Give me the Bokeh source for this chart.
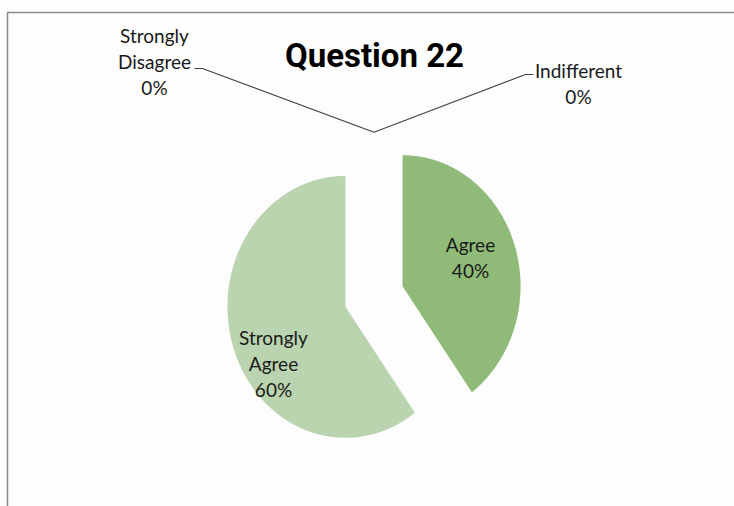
import numpy as np
from bokeh.plotting import figure
from bokeh.models import Range1d
from bokeh.core.properties import value
from bokeh.embed import file_html
from bokeh.resources import INLINE

# ---- data ----
categories = ["Indifferent", "Agree", "Strongly Agree", "Strongly Disagree"]
percent = [0, 40, 60, 0]
label_lines = ["Indifferent", "Agree", "Strongly\nAgree", "Strongly\nDisagree"]
slice_colors = ["#7aa65f", "#8fba78", "#bbd4b0", "#6f9a58"]
title_text = "Question 22"

# ---- geometry (pixels, y down) ----
W, H = 734, 506
cx, cy = 373.5, 296.0
rx, ry = 118.0, 131.0
explode = 30.0
FONT = "Lato"

p = figure(width=W, height=H, output_backend="svg", toolbar_location=None,
           x_range=Range1d(0, W), y_range=Range1d(H, 0), min_border=0)
p.axis.visible = False
p.grid.visible = False
p.outline_line_color = None
p.background_fill_color = "#fdfdfd"
p.border_fill_color = "#fdfdfd"

# chart frame (top and left edges)
p.line([7, 7, W], [H, 12, 12], line_color="#8a8a8a", line_width=1.5)

total = float(sum(percent))
cum = 0.0
apexes = []
for cat, v, col in zip(categories, percent, slice_colors):
    f = v / total
    a0 = 90.0 - 360.0 * cum
    a1 = 90.0 - 360.0 * (cum + f)
    mid = np.radians((a0 + a1) / 2.0)
    ax = cx + explode * np.cos(mid)
    ay = cy - explode * (ry / rx) * np.sin(mid)
    apexes.append((ax, ay, mid))
    if v > 0:
        t = np.radians(np.linspace(a0, a1, 200))
        xs = np.concatenate([[ax], ax + rx * np.cos(t), [ax]])
        ys = np.concatenate([[ay], ay - ry * np.sin(t), [ay]])
        p.patch(xs, ys, fill_color=col, line_color=None)
    cum += f

lab_font = value(FONT)
LAB_SIZE = "19px"
LINE_H = 1.12

# inside labels for non-zero slices
inside_pos = {"Agree": (470, 257), "Strongly Agree": (273, 363)}
for cat, v, lab in zip(categories, percent, label_lines):
    if v > 0:
        x, y = inside_pos[cat]
        p.text([x], [y], text=[f"{lab}\n{v}%"], text_font=lab_font,
               text_font_size=LAB_SIZE, text_color="#1a1a1a",
               text_align="center", text_baseline="middle",
               text_line_height=LINE_H)

# zero-slice labels with leader lines
outside = {
    "Strongly Disagree": dict(lx=154, ly=61, ex=194, ey=68, side=-1),
    "Indifferent": dict(lx=578, ly=83, ex=533, ey=74, side=1),
}
for (ax, ay, mid), cat, v, lab in zip(apexes, categories, percent, label_lines):
    if v == 0:
        o = outside[cat]
        vx = ax + rx * np.cos(mid)
        vy = ay - ry * np.sin(mid)
        hx = o["ex"] - 8 * o["side"]
        p.line([o["ex"], hx, vx], [o["ey"], o["ey"], vy],
               line_color="#444444", line_width=1.2)
        p.text([o["lx"]], [o["ly"]], text=[f"{lab}\n{v}%"], text_font=lab_font,
               text_font_size=LAB_SIZE, text_color="#1a1a1a",
               text_align="center", text_baseline="middle",
               text_line_height=LINE_H)

p.text([374], [55], text=[title_text], text_font=value("Roboto"),
       text_font_style="bold", text_font_size="33px", text_color="#000000",
       text_align="center", text_baseline="middle")

open("out.html", "w").write(file_html(p, INLINE))
